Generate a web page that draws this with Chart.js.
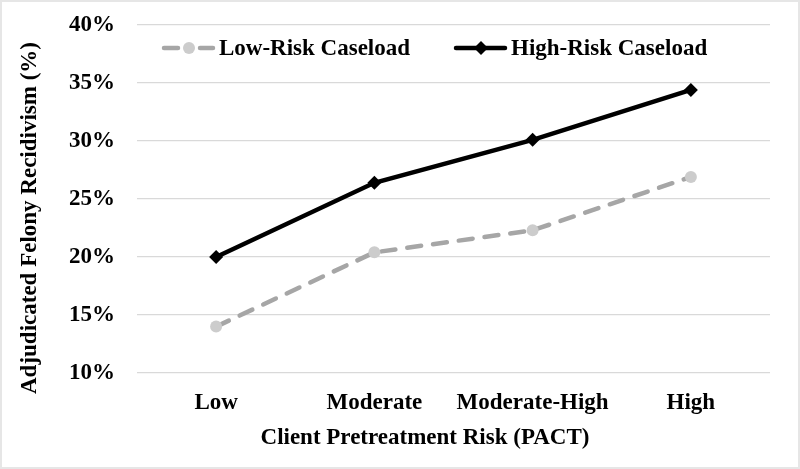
<!DOCTYPE html>
<html><head><meta charset="utf-8">
<script src="https://cdn.jsdelivr.net/npm/chart.js@4/dist/chart.umd.min.js"></script>
<style>
html,body{margin:0;padding:0;background:#fff;}
#wrap{width:800px;height:469px;position:relative;box-sizing:border-box;border:2px solid #e6e6e6;}
canvas{display:block;}
</style></head>
<body><div id="wrap"><canvas id="c" width="796" height="465"></canvas></div>
<script>
const categories = ["Low", "Moderate", "Moderate-High", "High"];
const lowRiskCaseload = [14.0, 20.4, 22.3, 26.9];
const highRiskCaseload = [20.0, 26.4, 30.1, 34.4];
const yTicks = [10, 15, 20, 25, 30, 35, 40];
const seriesNames = ["Low-Risk Caseload", "High-Risk Caseload"];
const xTitle = "Client Pretreatment Risk (PACT)";
const yTitle = "Adjudicated Felony Recidivism (%)";

const FONT = '"Liberation Serif", "Times New Roman", serif';

const overlay = {
  id: 'overlay',
  afterDraw(chart) {
    const ctx = chart.ctx;
    ctx.save();
    ctx.fillStyle = '#000';
    ctx.font = 'bold 23px ' + FONT;
    ctx.textAlign = 'center';
    ctx.textBaseline = 'middle';
    ctx.fillText(xTitle, 423, 436);
    ctx.translate(28, 216);
    ctx.rotate(-Math.PI / 2);
    ctx.fillText(yTitle, 0, 0);
    ctx.restore();

    // legend
    ctx.save();
    ctx.font = 'bold 23px ' + FONT;
    ctx.textBaseline = 'middle';
    const ly = 46;
    const items = [
      {x: 159, ds: chart.data.datasets[0]},
      {x: 451, ds: chart.data.datasets[1]}
    ];
    items.forEach(it => {
      const ds = it.ds;
      ctx.strokeStyle = ds.borderColor;
      ctx.lineWidth = ds.borderWidth;
      ctx.lineCap = 'round';
      ctx.setLineDash(ds.borderDash ? [14, 22] : []);
      ctx.beginPath();
      ctx.moveTo(it.x + 3, ly);
      ctx.lineTo(it.x + 52, ly);
      ctx.stroke();
      ctx.setLineDash([]);
      ctx.fillStyle = ds.pointBackgroundColor;
      const cx = it.x + 28;
      ctx.beginPath();
      if (ds.pointStyle === 'rectRot') {
        const r = 7;
        ctx.moveTo(cx, ly - r); ctx.lineTo(cx + r, ly); ctx.lineTo(cx, ly + r); ctx.lineTo(cx - r, ly);
        ctx.closePath();
      } else {
        ctx.arc(cx, ly, 6, 0, Math.PI * 2);
      }
      ctx.fill();
      ctx.fillStyle = '#000';
      ctx.fillText(ds.label, it.x + 58, ly + 1);
    });
    ctx.restore();
  }
};

new Chart(document.getElementById('c'), {
  type: 'line',
  data: {
    labels: categories,
    datasets: [
      {
        label: seriesNames[0],
        data: lowRiskCaseload,
        borderColor: '#a6a6a6',
        backgroundColor: '#cccccc',
        borderWidth: 4.5,
        borderDash: [14, 12],
        borderCapStyle: 'round',
        pointStyle: 'circle',
        pointRadius: 6,
        pointBorderWidth: 0,
        pointBackgroundColor: '#cccccc',
        pointBorderColor: '#cccccc',
        tension: 0
      },
      {
        label: seriesNames[1],
        data: highRiskCaseload,
        borderColor: '#000000',
        backgroundColor: '#000000',
        borderWidth: 4.5,
        pointStyle: 'rectRot',
        pointRadius: 7,
        pointBorderWidth: 0,
        pointBackgroundColor: '#000000',
        pointBorderColor: '#000000',
        tension: 0
      }
    ]
  },
  options: {
    responsive: false,
    animation: false,
    devicePixelRatio: 1,
    layout: {padding: {left: 0, right: 28, top: 0, bottom: 0}},
    plugins: {legend: {display: false}, tooltip: {enabled: false}},
    scales: {
      x: {
        offset: true,
        grid: {display: false},
        border: {display: false},
        ticks: {color: '#000', font: {family: FONT, size: 23, weight: 'bold'}, padding: 8, maxRotation: 0},
        afterFit(s) { s.height = 94; }
      },
      y: {
        min: 10, max: 40,
        afterBuildTicks(s) { s.ticks = yTicks.map(v => ({value: v})); },
        grid: {color: '#d9d9d9', lineWidth: 1.2, drawTicks: false},
        border: {display: false},
        ticks: {color: '#000', font: {family: FONT, size: 23, weight: 'bold'}, padding: 22,
                callback: v => v + '%'},
        afterFit(s) { s.width = 135; s.paddingTop = 23; s.paddingBottom = 20; }
      }
    }
  },
  plugins: [overlay]
});
</script></body></html>
